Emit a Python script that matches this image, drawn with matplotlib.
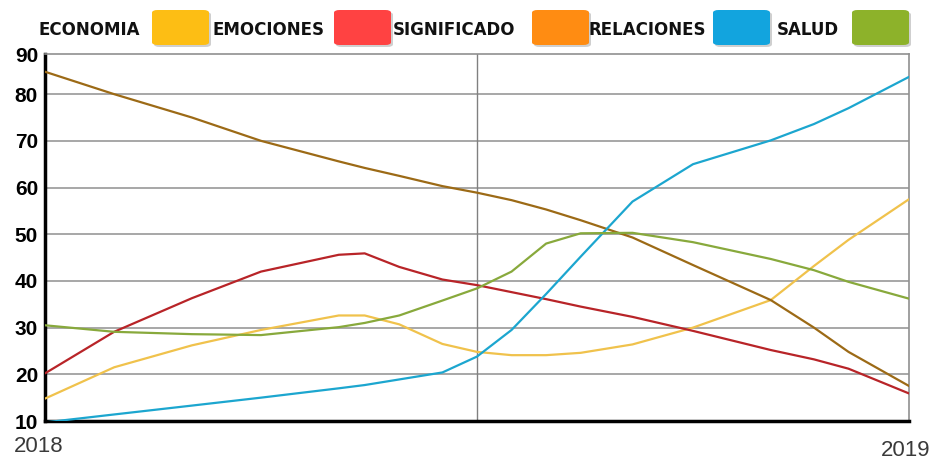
#!/usr/bin/env python

import numpy as np
from matplotlib import pyplot as plt
from matplotlib.patches import FancyBboxPatch

# position along the year (0 = 2018, 1 = 2019)
x = [0, 0.08, 0.17, 0.25, 0.34, 0.37, 0.41, 0.46, 0.5, 0.54, 0.58, 0.62, 0.68, 0.75, 0.84, 0.89, 0.93, 1.0]

economia    = [14.8, 21.5, 26.2, 29.5, 32.6, 32.6, 30.7, 26.5, 24.8, 24.1, 24.1, 24.6, 26.4, 30.0, 35.9, 43.2, 48.8, 57.5]
emociones   = [20.2, 29.1, 36.3, 42.0, 45.6, 45.9, 43.0, 40.3, 39.1, 37.6, 36.1, 34.5, 32.3, 29.3, 25.2, 23.2, 21.2, 15.9]
significado = [84.8, 80.0, 75.0, 70.0, 65.6, 64.2, 62.5, 60.3, 58.9, 57.3, 55.3, 53.0, 49.3, 43.4, 35.9, 30.0, 24.8, 17.5]
relaciones  = [9.7, 11.4, 13.3, 15.0, 17.0, 17.7, 18.9, 20.4, 23.8, 29.5, 37.2, 45.2, 57.0, 65.0, 70.1, 73.6, 77.0, 83.7]
salud       = [30.5, 29.1, 28.6, 28.4, 30.1, 31.0, 32.6, 35.8, 38.4, 42.0, 48.0, 50.2, 50.3, 48.3, 44.7, 42.3, 39.8, 36.2]

labels = ['ECONOMIA', 'EMOCIONES', 'SIGNIFICADO', 'RELACIONES', 'SALUD']
swatch_colors = ['#FDBE14', '#FF4242', '#FF8C12', '#12A4DE', '#8DB22A']
line_colors = ['#F0C24C', '#B82428', '#9C6A16', '#1CA6CF', '#88A93C']
series = [economia, emociones, significado, relaciones, salud]

ytick_vals = [10, 20, 30, 40, 50, 60, 70, 80]
ytick_labels = ['10', '20', '30', '40', '50', '60', '70', '80', '90']

W, H = 935, 461
fig = plt.figure(figsize=(W / 100, H / 100), dpi=100)
ax = fig.add_axes([45 / W, 1 - 421 / H, 864 / W, (421 - 54) / H])

ax.set_xlim(0, 1)
ax.set_ylim(10, 88.6)
for yv in ytick_vals[1:]:
    ax.axhline(yv, color='#a0a0a0', lw=1.3, zorder=1)
ax.axvline(0.5, color='#808080', lw=1.0, zorder=1)

for vals, c in zip(series, line_colors):
    ax.plot(x, vals, color=c, lw=1.6, zorder=3, solid_capstyle='round', solid_joinstyle='round')

ax.set_yticks(ytick_vals + [88.6])
ax.set_yticklabels(ytick_labels, fontsize=15, fontweight='bold', family=['Liberation Sans', 'DejaVu Sans'])
ax.tick_params(axis='y', length=0, pad=5)
ax.set_xticks([])

ax.spines['left'].set_linewidth(2.5)
ax.spines['bottom'].set_linewidth(2.5)
ax.spines['left'].set_color('black')
ax.spines['bottom'].set_color('black')
ax.spines['top'].set_color('#909090')
ax.spines['right'].set_color('#909090')
ax.spines['top'].set_linewidth(1.2)
ax.spines['right'].set_linewidth(1.2)

fig.text(39 / W, 1 - 446 / H, '2018', ha='center', va='center', fontsize=16, color='#3a3a3a',
         family=['Liberation Sans', 'DejaVu Sans'])
fig.text(906 / W, 1 - 450 / H, '2019', ha='center', va='center', fontsize=16, color='#3a3a3a',
         family=['Liberation Sans', 'DejaVu Sans'])

# legend: label then colour block
text_x = [38, 213, 393, 588, 777]
swatch_x = [152, 334, 532, 713, 852]
for lab, tx, sx, c in zip(labels, text_x, swatch_x, swatch_colors):
    fig.text(tx / W, 1 - 30 / H, lab, ha='left', va='center', fontsize=12, fontweight='heavy',
             color='#111111', family=['DejaVu Sans'])
    sh = FancyBboxPatch(((sx + 2) / W, 1 - 47 / H), 57 / W, 35 / H,
                        boxstyle='round,pad=0,rounding_size=0.006', transform=fig.transFigure,
                        facecolor='#00000030', edgecolor='none')
    fig.patches.append(sh)
    p = FancyBboxPatch((sx / W, 1 - 45 / H), 57 / W, 35 / H,
                       boxstyle='round,pad=0,rounding_size=0.006', transform=fig.transFigure,
                       facecolor=c, edgecolor='none')
    fig.patches.append(p)

plt.savefig('out.png', dpi=100)
